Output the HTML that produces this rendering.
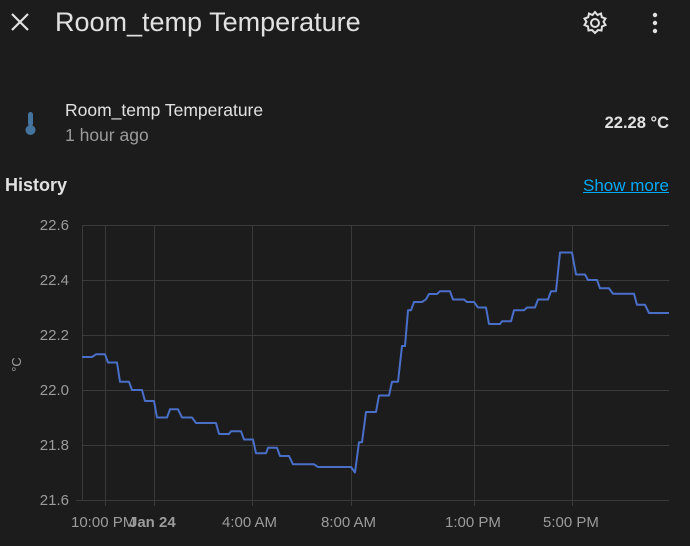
<!DOCTYPE html><html><head><style>
body{margin:0;width:690px;height:546px;background:#1c1c1c;font-family:"Liberation Sans",sans-serif;color:#e1e1e1;overflow:hidden;position:relative}
.a{position:absolute;white-space:nowrap}
</style></head><body>
<svg class="a" style="left:0;top:0" width="690" height="546">
<path d="M12 14L28 30M28 14L12 30" stroke="#e1e1e1" stroke-width="2.2"/>
<g transform="translate(595,23)" fill="none" stroke="#e1e1e1" stroke-width="2"><circle r="4"/><path d="M0-11L2.5-8 6-9.5 6.8-5.8 10.5-4.5 8.5-1.2 10.5 2 7 3.5 6.5 7.5 3 7 0 10-3 7-6.5 7.5-7 3.5-10.5 2-8.5-1.2-10.5-4.5-6.8-5.8-6-9.5-2.5-8Z"/></g>
<g fill="#e1e1e1"><circle cx="655" cy="15" r="2.2"/><circle cx="655" cy="23" r="2.2"/><circle cx="655" cy="31" r="2.2"/></g>
<g fill="#44739e"><rect x="28" y="112" width="5" height="14" rx="2.5"/><circle cx="30.5" cy="130" r="5"/></g>
<g stroke="#3a3a3a" stroke-width="1">
<line x1="82" y1="225.5" x2="669" y2="225.5"/><line x1="82" y1="280.5" x2="669" y2="280.5"/><line x1="82" y1="335.5" x2="669" y2="335.5"/><line x1="82" y1="390.5" x2="669" y2="390.5"/><line x1="82" y1="445.5" x2="669" y2="445.5"/><line x1="76" y1="500.5" x2="669" y2="500.5"/>
<line x1="82.5" y1="225" x2="82.5" y2="500"/>
<line x1="105.5" y1="225" x2="105.5" y2="506"/><line x1="154.5" y1="225" x2="154.5" y2="506"/><line x1="252.5" y1="225" x2="252.5" y2="506"/><line x1="351.5" y1="225" x2="351.5" y2="506"/><line x1="474.5" y1="225" x2="474.5" y2="506"/><line x1="572.5" y1="225" x2="572.5" y2="506"/>
</g>
<polyline fill="none" stroke="#4a6fc8" stroke-width="2" stroke-linejoin="round" points="
82,357 92,357 96,354.3 105,354.3 108,362.5 117,362.5 120,381.8 129,381.8 132,390 142,390 145,401 154,401 157,417.5 167,417.5 170,409.3 178,409.3 182,417.5 192,417.5 196,423 216,423 219,434 229,434 231,431.3 241,431.3 244,439.5 253,439.5 256,453.3 266,453.3 268,447.8 277,447.8 280,456 289,456 293,464.3 314,464.3 318,467 351,467 355,472.5 359,442.3 362,442.3 366,412 376,412 379,395.5 389,395.5 392,381.8 398,381.8 402,346 405,346 408,310.3 411,310.3 414,302 422,302 426,299.3 429,294 437,294 440,291.3 450,291.3 453,299.5 464,299.5 467,302 474,302 478,307.5 486,307.5 489,324 500,324 502,321.3 511,321.3 514,310.3 524,310.3 527,307.5 535,307.5 538,299.5 548,299.5 551,291.3 556,291.3 560,252.5 572,252.5 576,274.5 585,274.5 588,280 597,280 600,288.3 609,288.3 613,293.8 634,293.8 637,304.8 645,304.8 649,313 669,313"/>
</svg>
<div class="a" style="left:55px;top:7px;font-size:27px">Room_temp Temperature</div>
<div class="a" style="left:65px;top:100px;font-size:17.5px">Room_temp Temperature</div>
<div class="a" style="left:65px;top:125px;font-size:17.5px;color:#9b9b9b">1 hour ago</div>
<div class="a" style="right:21px;top:114px;font-size:16.5px;font-weight:bold">22.28 °C</div>
<div class="a" style="left:5px;top:175px;font-size:18px;font-weight:bold">History</div>
<div class="a" style="right:21px;top:176px;font-size:17px;color:#03a9f4;text-decoration:underline">Show more</div>
<div class="a" style="right:621px;top:198px;font-size:15px;color:#9b9b9b;text-align:right;line-height:55px">22.6<br>22.4<br>22.2<br>22.0<br>21.8<br>21.6</div>
<div class="a" style="left:9px;top:357px;font-size:13px;color:#9b9b9b;transform:rotate(-90deg)">°C</div>
<div class="a" style="top:514px;left:0;width:690px;font-size:15px;color:#9b9b9b">
<span class="a" style="left:71px">10:00 PM</span><span class="a" style="left:129px;font-weight:bold">Jan 24</span><span class="a" style="left:222px">4:00 AM</span><span class="a" style="left:321px">8:00 AM</span><span class="a" style="left:445px">1:00 PM</span><span class="a" style="left:543px">5:00 PM</span></div>
</body></html>
